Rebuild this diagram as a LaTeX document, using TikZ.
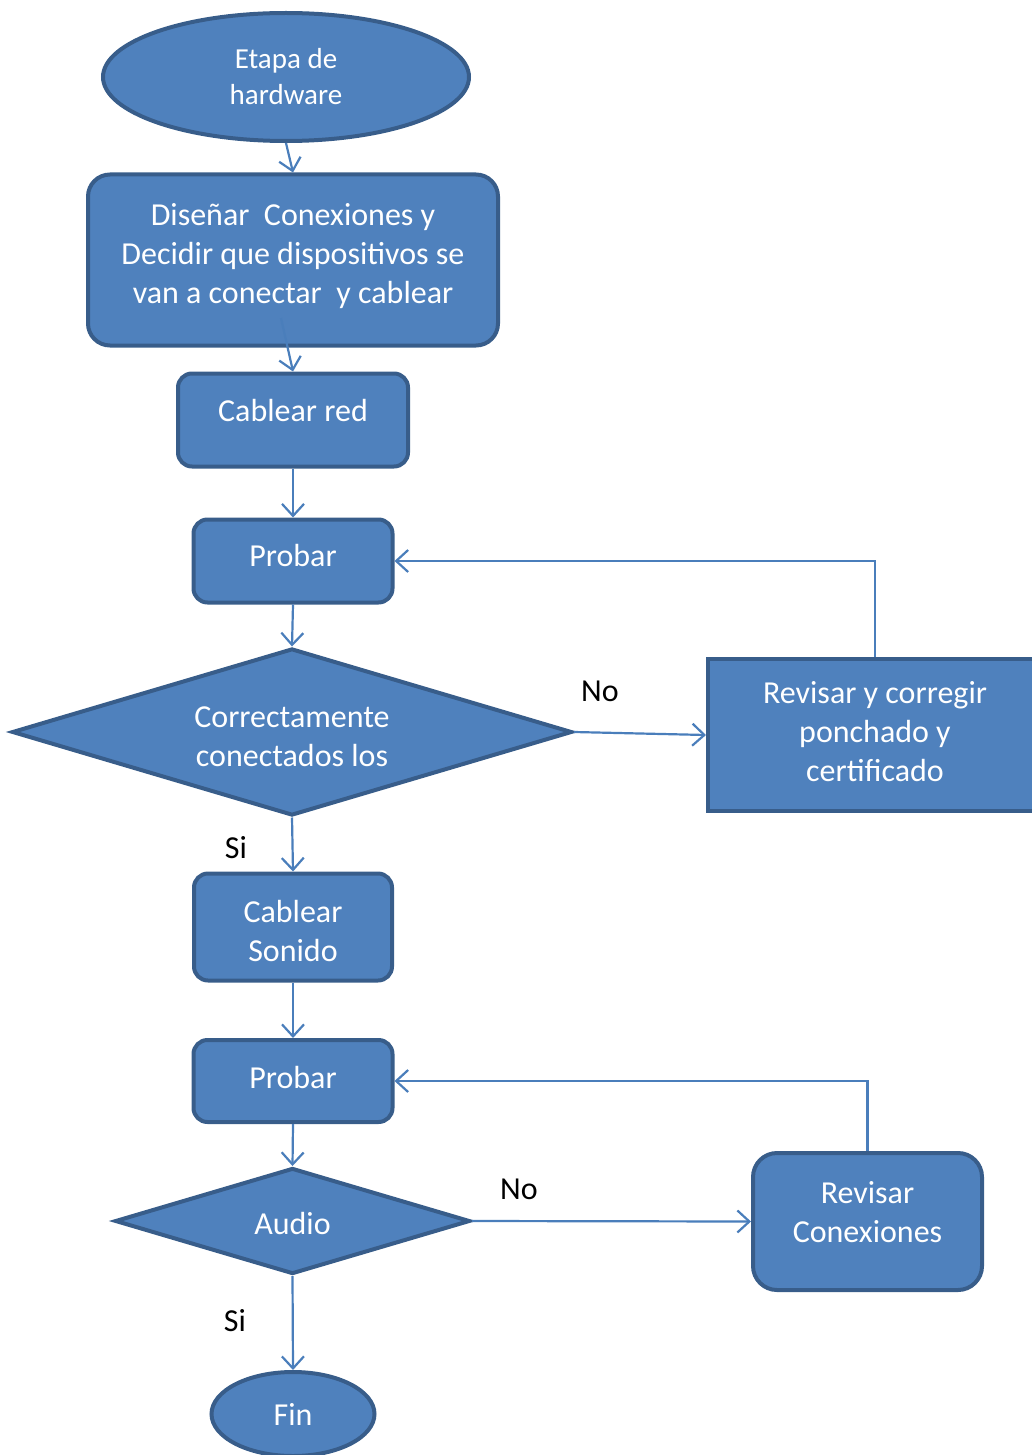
\documentclass[tikz,border=0pt]{standalone}
\usepackage{fontspec}
\setmainfont{Carlito}
\usetikzlibrary{shapes.geometric,arrows.meta}
\definecolor{fillb}{HTML}{4F81BD}
\definecolor{edgeb}{HTML}{385D8A}
\definecolor{lineb}{HTML}{4A7EBB}
\begin{document}
\begin{tikzpicture}[x=1pt,y=-1pt,
  shp/.style={fill=fillb,draw=edgeb,line width=4pt,inner sep=0pt},
  rbox/.style={shp,rectangle,rounded corners=22pt},
  sbox/.style={shp,rectangle},
  oval/.style={shp,ellipse},
  dia/.style={shp,diamond},
  txt/.style={text=white,align=center,font=\fontsize{32}{39}\selectfont,inner sep=0pt},
  conn/.style={draw=lineb,line width=2.2pt,-{Straight Barb[length=12pt,width=22pt,line width=2.2pt]}},
  lbl/.style={font=\fontsize{32}{33}\selectfont,text=black,inner sep=0pt}]
\useasboundingbox (0,0) rectangle (1032,1455);
\node[oval,minimum width=366,minimum height=128] (start) at (286,77) {};
\node[rbox,minimum width=410,minimum height=171] (dis) at (293,260) {};
\node[rbox,minimum width=230,minimum height=93,rounded corners=14pt] (cab) at (293,420) {};
\node[rbox,minimum width=199,minimum height=83,rounded corners=14pt] (pr1) at (293,561) {};
\node[dia,minimum width=560,minimum height=167,aspect=3.35] (d1) at (292,732) {};
\node[sbox,minimum width=334,minimum height=152] (rev) at (875,735) {};
\node[rbox,minimum width=198,minimum height=107,rounded corners=14pt] (son) at (293,927) {};
\node[rbox,minimum width=199,minimum height=82,rounded corners=14pt] (pr2) at (293,1081) {};
\node[dia,minimum width=355,minimum height=106,aspect=3.35] (d2) at (292.5,1221) {};
\node[rbox,minimum width=229,minimum height=137,rounded corners=24pt] (rc) at (867.5,1221.5) {};
\node[oval,minimum width=163,minimum height=84] (fin) at (293,1414) {};
\coordinate (disin) at (281,318);

\draw[conn] (start.south) -- (dis.north);
\draw[conn] (disin) -- (cab.north);
\draw[conn] (cab.south) -- (pr1.north);
\draw[conn] (pr1.south) -- (d1.north);
\draw[conn] (d1.east) -- (rev.west);
\draw[conn] (rev.north) |- (pr1.east);
\draw[conn] (d1.south) -- (son.north);
\draw[conn] (son.south) -- (pr2.north);
\draw[conn] (pr2.south) -- (d2.north);
\draw[conn] (d2.east) -- (rc.west);
\draw[conn] (rc.north) |- (pr2.east);
\draw[conn] (d2.south) -- (fin.north);

\node[txt,font=\fontsize{29}{36}\selectfont] (tstart) at (start.center) {Etapa de\\hardware};
\node[txt] (tdis) at ([yshift=4pt]dis.center) {Diseñar~ Conexiones y\\Decidir que dispositivos se\\van a conectar~ y cablear};
\node[txt] (tcab) at ([yshift=9pt]cab.center) {Cablear red};
\node[txt] (tpr1) at ([yshift=5pt]pr1.center) {Probar};
\node[txt] (td1) at ([yshift=-5pt]d1.center) {Correctamente\\conectados los};
\node[txt] (trev) at ([yshift=3pt]rev.center) {Revisar y corregir\\ponchado y\\certificado};
\node[txt] (tson) at ([yshift=-4pt]son.center) {Cablear\\Sonido};
\node[txt] (tpr2) at ([yshift=4pt]pr2.center) {Probar};
\node[txt] (td2) at ([yshift=-2pt]d2.center) {Audio};
\node[txt] (trc) at ([yshift=9pt]rc.center) {Revisar\\Conexiones};
\node[txt] (tfin) at (fin.center) {Fin};

\node[lbl] (no1) at (600,691) {No};
\node[lbl] (si1) at (236,848) {Si};
\node[lbl] (no2) at (519,1189) {No};
\node[lbl] (si2) at (235,1321) {Si};
\end{tikzpicture}
\end{document}
